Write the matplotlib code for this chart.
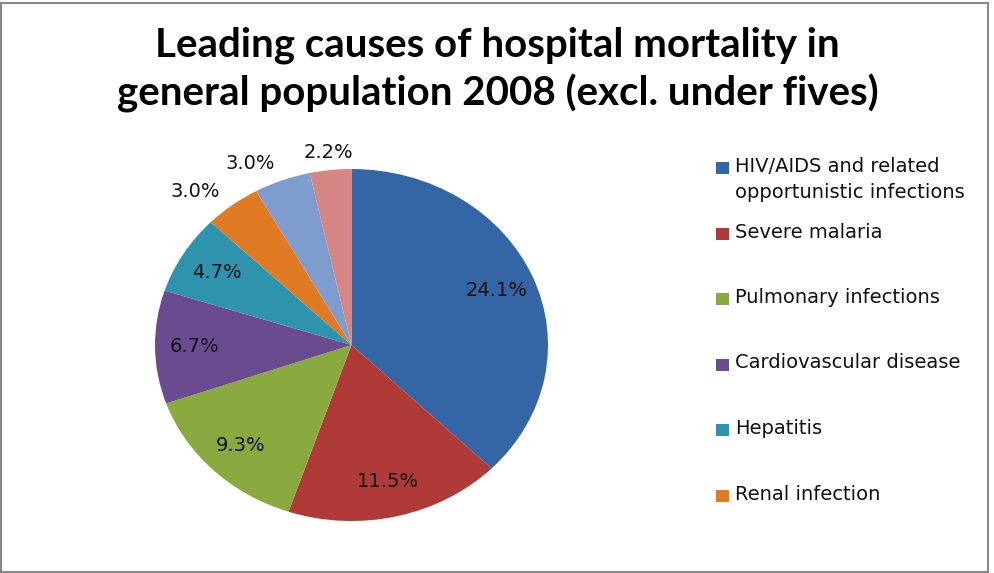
import matplotlib
matplotlib.use("Agg")
import numpy as np
import matplotlib.pyplot as plt
from matplotlib.patches import Rectangle

# data (values shown as labels, slices sized by them)
causes = ["HIV/AIDS and related\nopportunistic infections", "Severe malaria",
          "Pulmonary infections", "Cardiovascular disease", "Hepatitis",
          "Renal infection", "Other 1", "Other 2"]
shares = [24.1, 11.5, 9.3, 6.7, 4.7, 3.0, 3.0, 2.2]
colors = ["#3465a4", "#b03a38", "#89aa3f", "#6a4b8f", "#2e94ae",
          "#e07b24", "#7f9cce", "#d48584"]
shown_in_legend = 6

fig = plt.figure(figsize=(9.95, 5.73), dpi=100)
fig.patch.set_facecolor("white")

# pie axes, stretched a bit wider than tall like the original
ax = fig.add_axes([155 / 995, 52 / 573, 393 / 995, 352 / 573])
wedges, _ = ax.pie(shares, colors=colors, startangle=90, counterclock=False,
                   wedgeprops=dict(linewidth=0))
ax.set_aspect("auto")
ax.set_xlim(-1, 1)
ax.set_ylim(-1, 1)
ax.axis("off")

# percentage labels: inside for big slices, outside for small ones
for i, w in enumerate(wedges):
    mid = np.deg2rad((w.theta1 + w.theta2) / 2)
    if shares[i] >= 4:
        r, ha = 0.8, "center"
    else:
        r = 1.1
        ha = "right" if np.cos(mid) < -0.2 else "center"
    ax.text(r * np.cos(mid), r * np.sin(mid), f"{shares[i]:.1f}%",
            ha=ha, va="center", fontsize=14, color="#111111",
            family="DejaVu Sans", clip_on=False)

fig.text(0.5, 0.878, "Leading causes of hospital mortality in\ngeneral population 2008 (excl. under fives)",
         ha="center", va="center", fontsize=29, fontweight="bold",
         family="Lato", linespacing=1.3)

# legend drawn by hand so the marker sits on the first line of a label
y0 = 573 - 168
step = 65.5
for i in range(shown_in_legend):
    y = (y0 - i * step) / 573
    fig.patches.append(Rectangle((716 / 995, y - 6 / 573), 13 / 995, 12 / 573,
                                 transform=fig.transFigure, facecolor=colors[i],
                                 edgecolor="none"))
    fig.text(735 / 995, y + 11 / 573, causes[i], ha="left", va="top",
             fontsize=14, family="DejaVu Sans", color="#111111",
             linespacing=1.45)

# chart border
fig.patches.append(Rectangle((1 / 995, 1.5 / 573), 987 / 995, 569 / 573,
                             transform=fig.transFigure, fill=False,
                             edgecolor="#888888", linewidth=1.5))

fig.savefig("out.png", dpi=100)
